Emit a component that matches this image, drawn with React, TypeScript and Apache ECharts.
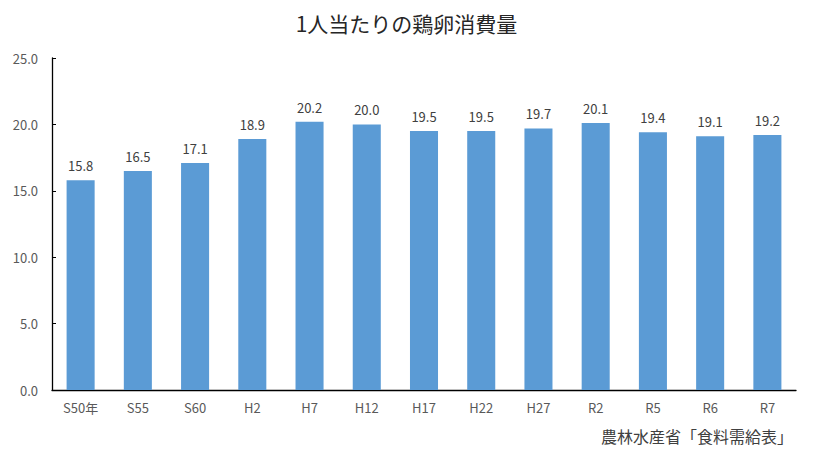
import React, { useEffect, useRef } from "react";
import * as echarts from "echarts";

const categories = ["S50年", "S55", "S60", "H2", "H7", "H12", "H17", "H22", "H27", "R2", "R5", "R6", "R7"];
const consumption = [15.8, 16.5, 17.1, 18.9, 20.2, 20.0, 19.5, 19.5, 19.7, 20.1, 19.4, 19.1, 19.2];
const titleText = "1人当たりの鶏卵消費量";
const sourceText = "農林水産省「食料需給表」";

const FONT = "'Noto Sans CJK JP', 'Noto Sans', sans-serif";

export default function App() {
  const ref = useRef<HTMLDivElement>(null);
  useEffect(() => {
    if (!ref.current) return;
    const chart = echarts.init(ref.current, undefined, { renderer: "svg" });
    chart.setOption({
      animation: false,
      backgroundColor: "#ffffff",
      title: {
        text: titleText,
        left: "center",
        top: 7,
        textStyle: { fontFamily: FONT, fontSize: 21, fontWeight: "normal", color: "#262626" },
      },
      graphic: [
        {
          type: "text",
          right: 20,
          top: 428,
          style: { text: sourceText, font: `16px ${FONT}`, fill: "#404040" },
        },
      ],
      grid: { left: 52, right: 17, top: 58, bottom: 64, containLabel: false },
      xAxis: {
        type: "category",
        data: categories,
        axisLine: { lineStyle: { color: "#000000", width: 1.3 } },
        axisTick: { inside: true, length: 4, lineStyle: { color: "#000000" } },
        axisLabel: { color: "#595959", fontSize: 13, fontFamily: FONT, margin: 11 },
      },
      yAxis: {
        type: "value",
        min: 0,
        max: 25,
        interval: 5,
        axisLine: { show: true, lineStyle: { color: "#000000", width: 1.3 } },
        axisTick: { show: true, inside: true, length: 4, lineStyle: { color: "#000000" } },
        splitLine: { show: false },
        axisLabel: {
          color: "#595959",
          fontSize: 13,
          fontFamily: FONT,
          margin: 14,
          formatter: (v: number) => v.toFixed(1),
        },
      },
      series: [
        {
          type: "bar",
          data: consumption,
          barWidth: "49%",
          itemStyle: { color: "#5B9BD5" },
          label: {
            show: true,
            position: "top",
            distance: 8,
            color: "#404040",
            fontSize: 13,
            fontFamily: FONT,
            formatter: (p: any) => Number(p.value).toFixed(1),
          },
        },
      ],
    });
    return () => chart.dispose();
  }, []);
  return (
    <div
      ref={ref}
      style={{ position: "fixed", left: 0, top: 0, width: 813, height: 454 }}
    />
  );
}
